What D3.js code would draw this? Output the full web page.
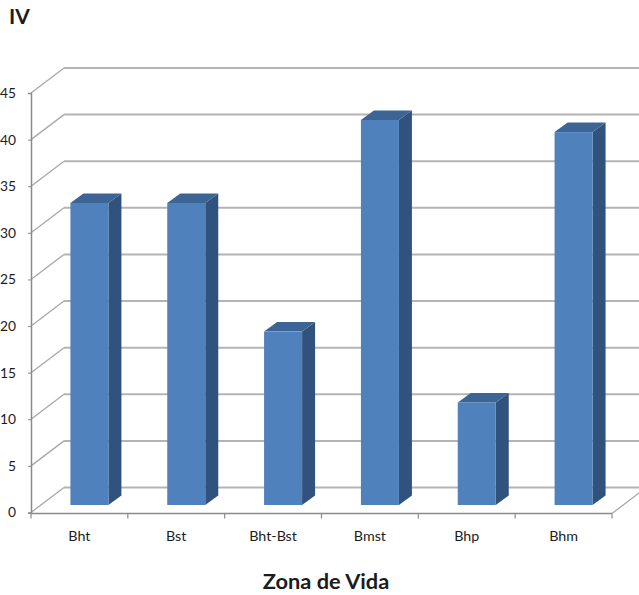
<!DOCTYPE html>
<html>
<head>
<meta charset="utf-8">
<script src="https://cdnjs.cloudflare.com/ajax/libs/d3/7.8.5/d3.min.js"></script>
<style>
html,body{margin:0;padding:0;background:#fff;overflow:hidden}
svg{display:block}
text{font-family:Lato,"Open Sans",sans-serif;fill:#1c1c1c}
</style>
</head>
<body>
<svg id="chart" width="639" height="595"></svg>
<script>
// Importance value per life zone
const zones = ["Bht", "Bst", "Bht-Bst", "Bmst", "Bhp", "Bhm"];
const values = [32.4, 32.4, 18.6, 41.3, 11.0, 40.0];
const yTicks = [0, 5, 10, 15, 20, 25, 30, 35, 40, 45];
const chartTitle = "IV";
const xTitle = "Zona de Vida";

const svg = d3.select("#chart");

// Oblique projection of the chart box
const depthX = 33, depthY = 25;
const barDepthX = 13, barDepthY = 9.5;

const x = d3.scaleBand().domain(zones).range([31, 612]);
const y = d3.scaleLinear().domain([0, 45]).range([512.5, 93]);

const barWidth = 38;
const barLift = 7.5;
const barShift = 10;

const wall = svg.append("g").attr("fill", "none");

// Back wall gridlines with their diagonals along the side wall
wall.selectAll("line.grid").data(yTicks).join("line")
  .attr("class", "grid")
  .attr("x1", 31 + depthX).attr("x2", 639)
  .attr("y1", d => y(d) - depthY).attr("y2", d => y(d) - depthY)
  .attr("stroke", "#b4b4b4").attr("stroke-width", 2);
wall.selectAll("line.side").data(yTicks).join("line")
  .attr("class", "side")
  .attr("x1", 31).attr("x2", 31 + depthX)
  .attr("y1", d => y(d)).attr("y2", d => y(d) - depthY)
  .attr("stroke", "#a8a8a8").attr("stroke-width", 1.3);

// Right edge of the floor
wall.append("line")
  .attr("x1", 612).attr("y1", y(0) + 1)
  .attr("x2", 612 + depthX).attr("y2", y(0) + 1 - depthY)
  .attr("stroke", "#a8a8a8").attr("stroke-width", 1.3);

// Value axis
const yAxis = svg.append("g")
  .attr("transform", "translate(31,0)")
  .call(d3.axisLeft(y).tickValues(yTicks).tickSize(3).tickPadding(12));
yAxis.select(".domain").attr("stroke", "#8a8a8a").attr("stroke-width", 1.5);
yAxis.selectAll(".tick line").attr("stroke", "#8a8a8a");
yAxis.selectAll("text")
  .style("font-family", 'Lato,"Open Sans",sans-serif')
  .style("font-size", "13.8px").attr("fill", "#1c1c1c");

// Category axis: labels centred under each bar, ticks between categories
const xAxis = svg.append("g").attr("transform", `translate(0,${y(0) + 1})`);
xAxis.append("line")
  .attr("x1", x.range()[0]).attr("x2", x.range()[1])
  .attr("stroke", "#8a8a8a").attr("stroke-width", 1.5);
xAxis.selectAll("line.tick")
  .data(zones.map(z => x(z)).concat(x.range()[1])).join("line")
  .attr("class", "tick")
  .attr("x1", d => d).attr("x2", d => d)
  .attr("y1", 0).attr("y2", 5)
  .attr("stroke", "#8a8a8a").attr("stroke-width", 1.2);
xAxis.selectAll("text").data(zones).join("text")
  .attr("x", d => x(d) + x.bandwidth() / 2)
  .attr("y", 27)
  .attr("text-anchor", "middle")
  .style("font-size", "14.3px")
  .text(d => d);

// Bars with a front, a side and a top face
const barLeft = d => x(d) + (x.bandwidth() - barWidth) / 2 + barShift;
const barBase = y(0) - barLift;
const barTop = v => barBase - (y(0) - y(v));

const bars = svg.append("g").selectAll("g").data(zones.map((z, i) => ({z, v: values[i]}))).join("g");
bars.append("path")
  .attr("fill", "#31527c")
  .attr("d", d => {
    const r = barLeft(d.z) + barWidth, t = barTop(d.v);
    return `M${r},${t}L${r + barDepthX},${t - barDepthY}L${r + barDepthX},${barBase - barDepthY}L${r},${barBase}Z`;
  });
bars.append("path")
  .attr("fill", "#3c6494")
  .attr("d", d => {
    const l = barLeft(d.z), t = barTop(d.v);
    return `M${l},${t}L${l + barDepthX},${t - barDepthY}L${l + barWidth + barDepthX},${t - barDepthY}L${l + barWidth},${t}Z`;
  });
bars.append("rect")
  .attr("x", d => barLeft(d.z))
  .attr("y", d => barTop(d.v))
  .attr("width", barWidth)
  .attr("height", d => barBase - barTop(d.v))
  .attr("fill", "#4f81bd");

// Titles
svg.append("text")
  .attr("x", 9).attr("y", 24)
  .style("font-size", "21px").style("font-weight", 700)
  .text(chartTitle);
svg.append("text")
  .attr("x", 326).attr("y", 589)
  .attr("text-anchor", "middle")
  .style("font-size", "21.8px").style("font-weight", 700)
  .text(xTitle);
</script>
</body>
</html>
